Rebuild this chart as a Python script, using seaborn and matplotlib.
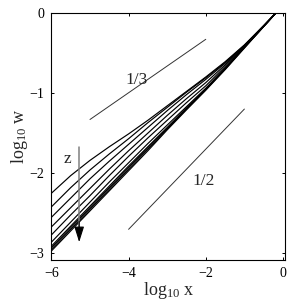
import numpy as np
import pandas as pd
import matplotlib
matplotlib.use("Agg")
import matplotlib.pyplot as plt
import seaborn as sns

# log10 x grid shared by all curves
log_x = [-6, -5.5, -5, -4.5, -4, -3.5, -3, -2.5, -2, -1.5, -1, -0.5, -0.18]

# log10 w for each z (top curve = smallest z)
w_z1 = [-2.25, -2.03, -1.84, -1.67, -1.51, -1.34, -1.16, -0.98, -0.80, -0.61, -0.40, -0.16, 0.0]
w_z2 = [-2.42, -2.18, -1.96, -1.76, -1.57, -1.37, -1.18, -0.99, -0.81, -0.62, -0.405, -0.16, 0.0]
w_z3 = [-2.55, -2.31, -2.07, -1.85, -1.64, -1.43, -1.22, -1.02, -0.83, -0.63, -0.41, -0.16, 0.0]
w_z4 = [-2.67, -2.43, -2.19, -1.95, -1.72, -1.50, -1.28, -1.07, -0.87, -0.65, -0.415, -0.165, 0.0]
w_z5 = [-2.77, -2.52, -2.28, -2.03, -1.79, -1.56, -1.34, -1.12, -0.91, -0.67, -0.42, -0.165, 0.0]
w_z6 = [-2.86, -2.61, -2.36, -2.11, -1.87, -1.63, -1.40, -1.17, -0.94, -0.69, -0.425, -0.17, 0.0]
w_z7 = [-2.91, -2.66, -2.41, -2.16, -1.91, -1.67, -1.43, -1.19, -0.95, -0.70, -0.43, -0.17, 0.0]
w_z8 = [-2.93, -2.68, -2.43, -2.18, -1.93, -1.68, -1.44, -1.19, -0.95, -0.70, -0.43, -0.17, 0.0]
w_z9 = [-2.95, -2.70, -2.45, -2.20, -1.95, -1.70, -1.45, -1.20, -0.96, -0.70, -0.435, -0.17, 0.0]
w_z10 = [-2.97, -2.72, -2.47, -2.22, -1.97, -1.72, -1.46, -1.21, -0.965, -0.71, -0.44, -0.17, 0.0]
curves = [w_z1, w_z2, w_z3, w_z4, w_z5, w_z6, w_z7, w_z8, w_z9, w_z10]

# slope guide lines
guide_third_x = [-5, -2]
guide_third_y = [-1.33, -0.33]
guide_half_x = [-4, -1]
guide_half_y = [-2.7, -1.2]

xticks = [-6, -4, -2, 0]
yticks = [-3, -2, -1, 0]

sns.set_theme(style="ticks")
plt.rcParams['font.family'] = ['Liberation Serif', 'DejaVu Serif']
plt.rcParams['mathtext.fontset'] = 'custom'
plt.rcParams['mathtext.rm'] = 'Liberation Serif'
plt.rcParams['mathtext.it'] = 'Liberation Serif:italic'

rows = []
for i, ws in enumerate(curves):
    for xv, wv in zip(log_x, ws):
        rows.append({'logx': xv, 'logw': wv, 'z': i})
df = pd.DataFrame(rows)

fig = plt.figure(figsize=(2.92, 3.06), dpi=100)
ax = fig.add_axes([0.176, 0.151, 0.801, 0.807])

sns.lineplot(data=df, x='logx', y='logw', hue='z', units='z', estimator=None,
             palette=['black'] * len(curves), linewidth=0.85, legend=False, ax=ax)

ax.plot(guide_third_x, guide_third_y, color='#333333', lw=0.7)
ax.plot(guide_half_x, guide_half_y, color='#333333', lw=0.7)
ax.text(-3.78, -0.84, '1/3', fontsize=12.5, ha='center', va='center')
ax.text(-2.06, -2.10, '1/2', fontsize=12.5, ha='center', va='center')

# z arrow
ax.plot([-5.28, -5.28], [-1.67, -2.7], color='#808080', lw=1.1)
ax.annotate('', xy=(-5.28, -2.86), xytext=(-5.28, -2.6),
            arrowprops=dict(arrowstyle='-|>,head_length=0.95,head_width=0.3',
                            color='black', lw=0.8, mutation_scale=10,
                            shrinkA=0, shrinkB=0))
ax.text(-5.59, -1.82, 'z', fontsize=12.5, ha='center', va='center')

ax.set_xlim(-6, 0.06)
ax.set_ylim(-3.08, 0)
ax.set_xticks(xticks)
ax.set_yticks(yticks)
ax.set_xticklabels(['\u2212%d' % abs(t) if t else '0' for t in xticks])
ax.set_yticklabels(['\u2212%d' % abs(t) if t else '0' for t in yticks])
ax.tick_params(direction='in', length=2.5, width=0.7, top=True, right=True,
               labelsize=10, colors='black', pad=5)
for s in ax.spines.values():
    s.set_visible(True)
    s.set_linewidth(0.8)
    s.set_color('black')

ax.set_xlabel(r'$\mathrm{log}_{10}\ \mathrm{x}$', fontsize=13, labelpad=0)
ax.set_ylabel(r'$\mathrm{log}_{10}\ \mathrm{w}$', fontsize=13, labelpad=0)

fig.savefig('out.png', dpi=100)
